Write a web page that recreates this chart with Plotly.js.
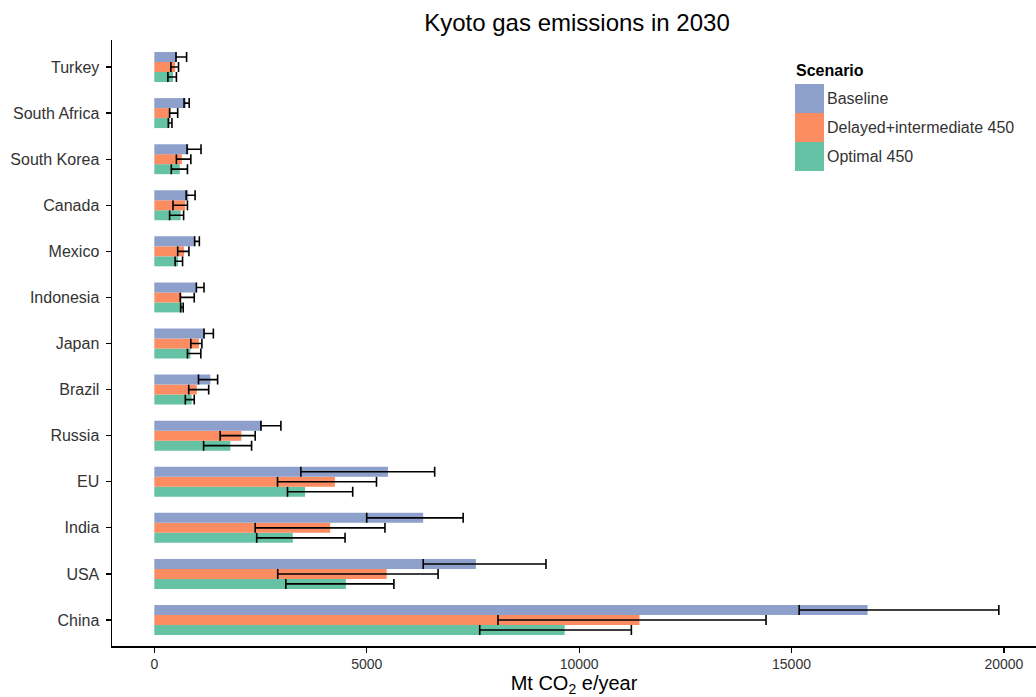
<!DOCTYPE html>
<html>
<head>
<meta charset="utf-8">
<script src="https://cdn.plot.ly/plotly-3.0.1.min.js"></script>
<style>html,body{margin:0;padding:0;background:#fff;}#chart{width:1036px;height:697px;}</style>
</head>
<body>
<div id="chart"></div>
<script>
// Countries, bottom to top
const countries = ["China","USA","India","EU","Russia","Brazil","Japan","Indonesia","Mexico","Canada","South Korea","South Africa","Turkey"];

// Baseline
const baselineMean = [16790, 7570, 6330, 5500, 2530, 1320, 1180, 1000, 960, 800, 800, 740, 530];
const baselineLow  = [15180, 6330, 5000, 3450, 2510, 1040, 1170,  990, 950, 750, 770, 700, 510];
const baselineHigh = [19880, 9220, 7270, 6600, 2980, 1490, 1390, 1170, 1060, 960, 1100, 820, 760];

// Delayed+intermediate 450
const delayedMean = [11420, 5470, 4140, 4250, 2050, 1000, 1050, 640, 700, 730, 650, 380, 490];
const delayedLow  = [ 8090, 2905, 2375, 2900, 1550,  810,  860, 610, 550, 440, 520, 360, 390];
const delayedHigh = [14400, 6680, 5430, 5230, 2375, 1280, 1120, 940, 815, 780, 860, 550, 570];

// Optimal 450
const optimalMean = [9660, 4510, 3260, 3550, 1790, 880, 850, 650, 560, 620, 600, 360, 440];
const optimalLow  = [7660, 3095, 2410, 3135, 1160, 730, 780, 620, 490, 360, 400, 330, 320];
const optimalHigh = [11230, 5640, 4490, 4670, 2290, 940, 1095, 680, 665, 690, 780, 415, 520];

const xTicks = [0, 5000, 10000, 15000, 20000];

// drawing order: bottom bar of each group first
const series = [
  {name: "Optimal 450", mean: optimalMean, low: optimalLow, high: optimalHigh, color: "#66c2a5"},
  {name: "Delayed+intermediate 450", mean: delayedMean, low: delayedLow, high: delayedHigh, color: "#fc8d62"},
  {name: "Baseline", mean: baselineMean, low: baselineLow, high: baselineHigh, color: "#8da0cb"}
];

const traces = series.map(s => ({
  type: "bar",
  orientation: "h",
  name: s.name,
  y: countries,
  x: s.mean,
  marker: {color: s.color, line: {width: 0}},
  error_x: {
    type: "data",
    symmetric: false,
    array: s.high.map((h, i) => Math.max(0, h - s.mean[i])),
    arrayminus: s.low.map((l, i) => Math.max(0, s.mean[i] - l)),
    color: "#000000",
    thickness: 1.6,
    width: 5
  },
  showlegend: false,
  hoverinfo: "x+y+name"
}));

// Plot area geometry (px) used for the legend block placement
const plotLeft = 112, plotW = 924, plotTop = 40, plotH = 606;
const px2x = p => (p - plotLeft) / plotW;
const px2y = p => (plotTop + plotH - p) / plotH;

// Legend (top to bottom: Baseline, Delayed, Optimal)
const legendOrder = series.slice().reverse();
const swLeft = 795, swW = 29, swTop = 84, swH = 29;
const shapes = legendOrder.map((s, i) => ({
  type: "rect", xref: "paper", yref: "paper",
  x0: px2x(swLeft), x1: px2x(swLeft + swW),
  y0: px2y(swTop + (i + 1) * swH), y1: px2y(swTop + i * swH),
  fillcolor: s.color, line: {width: 0}, layer: "above"
}));
const annotations = [{
  xref: "paper", yref: "paper", x: px2x(794), y: px2y(70),
  xanchor: "left", yanchor: "middle", showarrow: false,
  text: "<b>Scenario</b>", font: {size: 16, color: "#000000"}
}].concat(legendOrder.map((s, i) => ({
  xref: "paper", yref: "paper", x: px2x(swLeft + swW + 1), y: px2y(swTop + i * swH + swH / 2),
  xanchor: "left", yanchor: "middle", showarrow: false,
  text: s.name, font: {size: 16, color: "#333333"}
})));

const layout = {
  width: 1036,
  height: 697,
  margin: {l: plotLeft, r: 1036 - plotLeft - plotW, t: plotTop, b: 697 - plotTop - plotH},
  paper_bgcolor: "#ffffff",
  plot_bgcolor: "#ffffff",
  font: {family: "Liberation Sans, Arial, sans-serif", size: 14, color: "#333333"},
  title: {
    text: "Kyoto gas emissions in 2030",
    font: {size: 24, color: "#000000"},
    x: 0.5 + 3 / plotW, xref: "paper", xanchor: "center",
    y: 0.967, yref: "container", yanchor: "middle"
  },
  barmode: "group",
  bargap: 0.35,
  bargroupgap: 0,
  showlegend: false,
  shapes: shapes,
  annotations: annotations,
  xaxis: {
    range: [-996, 20755],
    tickvals: xTicks,
    ticktext: xTicks.map(String),
    showgrid: false,
    zeroline: false,
    showline: true,
    linecolor: "#000000",
    linewidth: 1.5,
    ticks: "outside",
    ticklen: 5,
    tickwidth: 1.2,
    tickcolor: "#000000",
    tickfont: {size: 14, color: "#333333"},
    title: {text: "Mt CO<sub>2</sub> e/year", font: {size: 20, color: "#000000"}, standoff: 4}
  },
  yaxis: {
    type: "category",
    categoryorder: "array",
    categoryarray: countries,
    range: [-0.564, 12.586],
    showgrid: false,
    zeroline: false,
    showline: true,
    linecolor: "#000000",
    linewidth: 1.5,
    ticks: "outside",
    ticklen: 5,
    tickwidth: 1.2,
    tickcolor: "#000000",
    ticklabelstandoff: 3,
    tickfont: {size: 16, color: "#333333"}
  }
};

Plotly.newPlot("chart", traces, layout, {displayModeBar: false, staticPlot: true});
</script>
</body>
</html>
